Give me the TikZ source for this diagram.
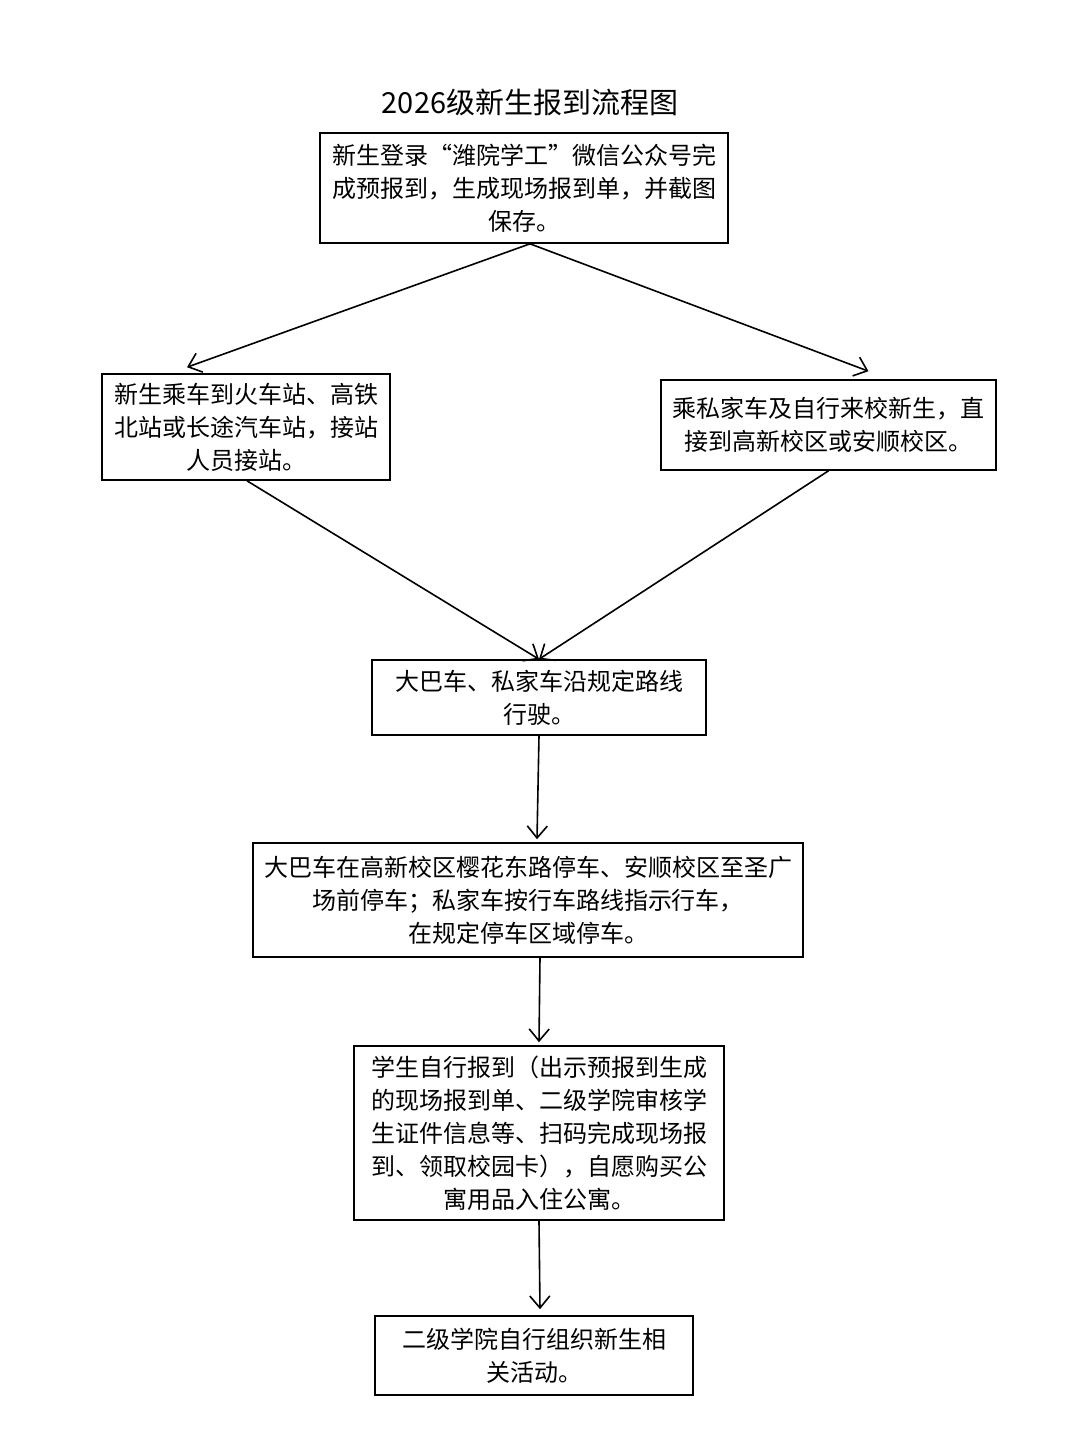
\documentclass[tikz,border=0pt]{standalone}
\usepackage{fontspec}
\setmainfont{Noto Sans CJK SC}
\usetikzlibrary{arrows.meta}
\tikzset{
  box/.style={draw, thick, align=center, inner sep=0pt, font=\fontsize{12}{16.5}\selectfont},
  arr/.style={thick, -{Straight Barb[length=6pt,width=10pt]}}
}
\begin{document}
\begin{tikzpicture}[x=0.5pt,y=-0.5pt]
  \useasboundingbox (0,0) rectangle (1080,1432);
  % Titel
  \node[font=\fontsize{14.5}{18}\selectfont] (title) at (530,102) {2026级新生报到流程图};
  % Kästen
  \node[box, minimum width=204pt, minimum height=55pt] (login) at (524,188)
    {新生登录“潍院学工”微信公众号完\\成预报到，生成现场报到单，并截图\\保存。};
  \node[box, minimum width=144pt, minimum height=53pt] (train) at (246,427)
    {新生乘车到火车站、高铁\\北站或长途汽车站，接站\\人员接站。};
  \node[box, minimum width=167.5pt, minimum height=45pt] (car) at (828.5,425)
    {乘私家车及自行来校新生，直\\接到高新校区或安顺校区。};
  \node[box, minimum width=167pt, minimum height=37.5pt] (drive) at (539,697.5)
    {大巴车、私家车沿规定路线\\行驶。};
  \node[box, minimum width=275pt, minimum height=57pt] (park) at (528,900)
    {大巴车在高新校区樱花东路停车、安顺校区至圣广\\场前停车；私家车按行车路线指示行车，\\在规定停车区域停车。};
  \node[box, minimum width=185pt, minimum height=87pt] (report) at (539,1133)
    {学生自行报到（出示预报到生成\\的现场报到单、二级学院审核学\\生证件信息等、扫码完成现场报\\到、领取校园卡），自愿购买公\\寓用品入住公寓。};
  \node[box, minimum width=159pt, minimum height=39.5pt] (college) at (534,1355.5)
    {二级学院自行组织新生相\\关活动。};
  % Pfeile
  \draw[arr] ([xshift=3pt]login.south) -- ([xshift=-29.5pt,yshift=3pt]train.north);
  \draw[arr] ([xshift=3pt]login.south) -- ([xshift=20pt,yshift=4pt]car.north);
  \draw[arr] ([xshift=0.5pt]train.south) -- (drive.north);
  \draw[arr] (car.south) -- (drive.north);
  \draw[arr] (drive.south) -- ([xshift=4.5pt,yshift=1.5pt]park.north);
  \draw[arr] ([xshift=6pt]park.south) -- ([yshift=1.5pt]report.north);
  \draw[arr] (report.south) -- ([xshift=3pt,yshift=3pt]college.north);
\end{tikzpicture}
\end{document}
